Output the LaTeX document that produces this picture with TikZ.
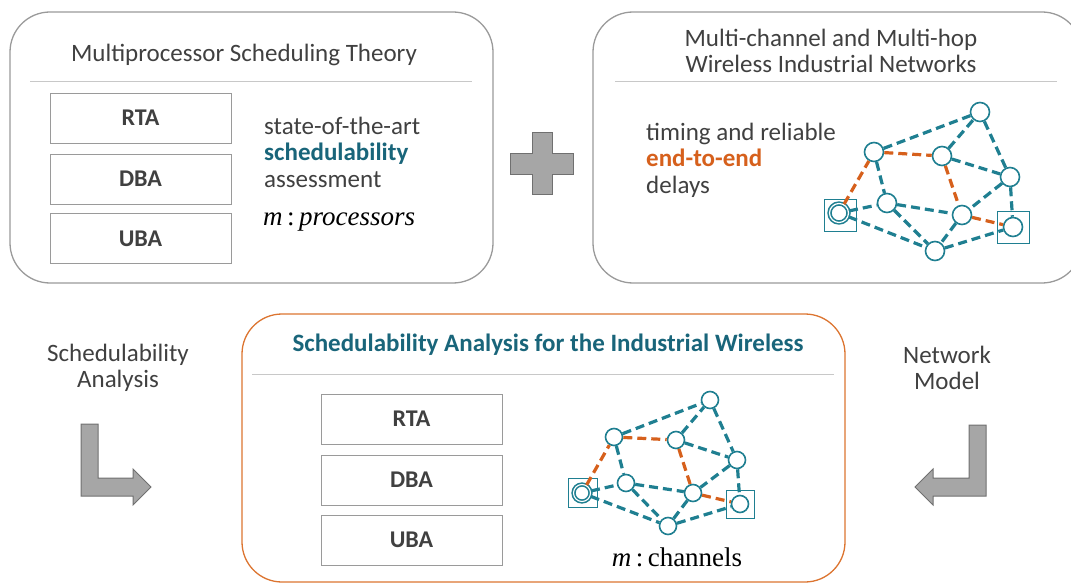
\documentclass[tikz,border=0pt]{standalone}
\usepackage{fontspec}
\setmainfont{Carlito}
\newfontfamily\timesfont{Liberation Serif}
\usetikzlibrary{positioning}
\definecolor{netblue}{HTML}{1F7F91}
\definecolor{darkteal}{HTML}{19657A}
\definecolor{hotorange}{HTML}{D6601C}
\definecolor{frameorange}{HTML}{DC7430}
\definecolor{boxgray}{HTML}{9A9A9A}
\definecolor{sepgray}{HTML}{C8C8C8}
\definecolor{txtgray}{HTML}{404040}
\definecolor{arrgray}{HTML}{A6A6A6}
\definecolor{arrborder}{HTML}{707070}

\begin{document}
\begin{tikzpicture}[x=1pt,y=-1pt]
 \tikzset{panel/.style={draw=boxgray,line width=1.3pt,rounded corners=40pt},
  sep/.style={draw=sepgray,line width=1pt},
  alg/.style={draw=boxgray,line width=0.9pt,minimum width=181pt,minimum height=50pt,
   text=txtgray,font=\fontsize{24}{28}\selectfont\bfseries},
  txt/.style={text=txtgray,font=\fontsize{25}{26.5}\selectfont,inner sep=0pt},
  sw/.style={circle,draw=netblue,fill=white,line width=1.6pt,minimum size=19pt,inner sep=0pt},
  sws/.style={sw,minimum size=17pt},
  frame/.style={draw=netblue,line width=0.9pt,minimum size=32pt,inner sep=0pt},
  link/.style={draw=netblue,line width=3.2pt,dash pattern=on 9pt off 5pt},
  hot/.style={link,draw=hotorange},
  bigarrow/.style={fill=arrgray,draw=arrborder,line width=1pt}}
 \useasboundingbox (0,0) rectangle (1071,583);
 \clip (0,0) rectangle (1071,583);

 % panels
 \draw[panel] (10,12) rectangle (493,283);
 \draw[panel] (593,12) rectangle (1082,283);
 \draw[panel,draw=frameorange] (242,314) rectangle (845,582);
 \draw[sep] (30,82) -- (472,82);
 \draw[sep] (615,82) -- (1057,82);
 \draw[sep] (252,374) -- (834,374);

 % multiprocessor side
 \node[txt] (mpt) at (244,55) {Multiprocessor Scheduling Theory};
 \node[alg] (rta1) at (140.5,118) {RTA};
 \node[alg] (dba1) at (140.5,179) {DBA};
 \node[alg] (uba1) at (140.5,238.5) {UBA};
 \node[txt,align=left,anchor=west] (sota) at (264,152)
  {state-of-the-art\\{\color{darkteal}\bfseries schedulability}\\assessment};
 \node[inner sep=0pt,anchor=west,font=\timesfont\fontsize{27}{30}\selectfont] (proc) at (263,222)
  {\itshape m\,\upshape:\,\itshape processors};

 % plus
 \draw[bigarrow] (532,133) -- (552,133) -- (552,154) -- (573,154) -- (573,174) -- (552,174)
  -- (552,194) -- (532,194) -- (532,174) -- (510,174) -- (510,154) -- (532,154) -- cycle;

 % wireless side
 \node[txt,align=center] (wnet) at (831,51) {Multi-channel and Multi-hop\\Wireless Industrial Networks};
 \node[txt,align=left,anchor=west] (timing) at (646,160)
  {timing and reliable\\{\color{hotorange}\bfseries end-to-end}\\delays};

 \node[frame] (tGs) at (840,215) {};
 \node[frame] (tHs) at (1013,227) {};
 \node[sw] (tA) at (980,112) {};
 \node[sw] (tB) at (874,152) {};
 \node[sw] (tC) at (942,156) {};
 \node[sw] (tD) at (1010,177) {};
 \node[sw] (tE) at (887,203) {};
 \node[sw] (tF) at (962,215) {};
 \node[sw,double=white,double distance=1.2pt] (tG) at (839,213) {};
 \node[sw] (tH) at (1013,227) {};
 \node[sw] (tI) at (935,251) {};
 \draw[link] (tB) -- (tA) (tC) -- (tA) (tA) -- (tD) (tC) -- (tD) (tB) -- (tE) (tG) -- (tE)
  (tE) -- (tF) (tD) -- (tF) (tD) -- (tH) (tG) -- (tI) (tE) -- (tI) (tF) -- (tI) (tI) -- (tH);
 \draw[hot] (tG) -- (tB) (tB) -- (tC) (tC) -- (tF) (tF) -- (tH);

 % bottom part
 \node[txt,align=center] (sa) at (118,368) {Schedulability\\Analysis};
 \node[txt,align=center] (nm) at (947,368) {Network\\Model};
 \draw[bigarrow] (81,424) -- (98,424) -- (98,478) -- (133,478) -- (133,469) -- (151,487)
  -- (133,505) -- (133,496) -- (81,496) -- cycle;
 \draw[bigarrow] (986,425) -- (969,425) -- (969,478) -- (933,478) -- (933,469) -- (915,487)
  -- (933,505) -- (933,496) -- (986,496) -- cycle;

 \node[txt,text=darkteal,font=\fontsize{25}{28}\selectfont\bfseries] (sai) at (548,345)
  {Schedulability Analysis for the Industrial Wireless};
 \node[alg] (rta2) at (411.5,419) {RTA};
 \node[alg] (dba2) at (411.5,480) {DBA};
 \node[alg] (uba2) at (411.5,540) {UBA};

 \node[frame,minimum size=29pt] (bGs) at (583,493) {};
 \node[frame,minimum size=28pt] (bHs) at (740,504) {};
 \node[sws] (bA) at (710,400) {};
 \node[sws] (bB) at (614,437) {};
 \node[sws] (bC) at (676,440) {};
 \node[sws] (bD) at (737,460) {};
 \node[sws] (bE) at (626,483) {};
 \node[sws] (bF) at (693,493) {};
 \node[sws,double=white,double distance=1.1pt] (bG) at (582,493) {};
 \node[sws] (bH) at (740,504) {};
 \node[sws] (bI) at (668,526) {};
 \draw[link] (bB) -- (bA) (bC) -- (bA) (bA) -- (bD) (bC) -- (bD) (bB) -- (bE) (bG) -- (bE)
  (bE) -- (bF) (bD) -- (bF) (bD) -- (bH) (bG) -- (bI) (bE) -- (bI) (bF) -- (bI) (bI) -- (bH);
 \draw[hot] (bG) -- (bB) (bB) -- (bC) (bC) -- (bF) (bF) -- (bH);
 \node[inner sep=0pt,font=\timesfont\fontsize{27}{30}\selectfont] (chan) at (677,557)
  {\itshape m\,\upshape:\,channels};
\end{tikzpicture}
\end{document}
